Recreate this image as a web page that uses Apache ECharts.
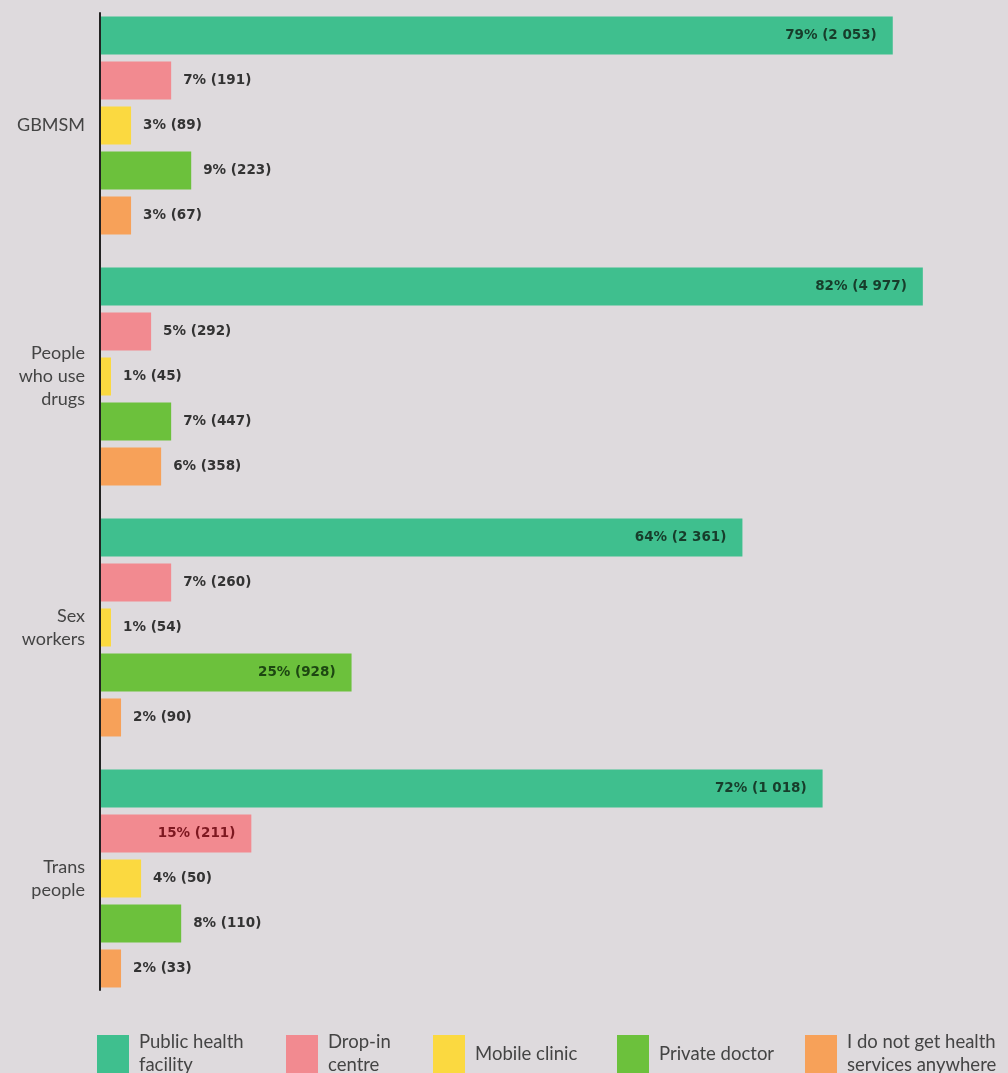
<!DOCTYPE html>
<html>
<head>
<meta charset="utf-8">
<script src="https://cdn.jsdelivr.net/npm/echarts@6/dist/echarts.min.js"></script>
<style>
  html, body { margin: 0; padding: 0; background: #dedadd; }
  #chart { width: 1008px; height: 1073px; }
</style>
</head>
<body>
<div id="chart"></div>
<script>
const categories = ['GBMSM', 'People\nwho use\ndrugs', 'Sex\nworkers', 'Trans\npeople'];
const seriesNames = ['Public health facility', 'Drop-in centre', 'Mobile clinic', 'Private doctor', 'I do not get health services anywhere'];
const legendLabels = ['Public health\nfacility', 'Drop-in\ncentre', 'Mobile clinic', 'Private doctor', 'I do not get health\nservices anywhere'];
const colors = ['#3fbf8e', '#f28a90', '#fbd940', '#6cc13c', '#f7a159'];
const insideLabelColors = ['#173d2b', '#7d1820', '#5a4a00', '#1d4712', '#5a3000'];

// percentages per series, in category order (GBMSM, PWUD, Sex workers, Trans people)
const publicPct  = [79, 82, 64, 72];
const dropinPct  = [7, 5, 7, 15];
const mobilePct  = [3, 1, 1, 4];
const privatePct = [9, 7, 25, 8];
const nonePct    = [3, 6, 2, 2];

// respondent counts
const publicN  = [2053, 4977, 2361, 1018];
const dropinN  = [191, 292, 260, 211];
const mobileN  = [89, 45, 54, 50];
const privateN = [223, 447, 928, 110];
const noneN    = [67, 358, 90, 33];

const pctSets = [publicPct, dropinPct, mobilePct, privatePct, nonePct];
const countSets = [publicN, dropinN, mobileN, privateN, noneN];

function fmtCount(n) {
  return String(n).replace(/\B(?=(\d{3})+(?!\d))/g, ' ');
}

const textFont = 'Lato, "Open Sans", sans-serif';
const valueFont = '"DejaVu Sans", sans-serif';

const series = seriesNames.map((name, si) => ({
  name: name,
  type: 'bar',
  barWidth: 38,
  barGap: '18.4%',
  xAxisIndex: 0,
  yAxisIndex: 0,
  itemStyle: { color: colors[si] },
  data: pctSets[si].map((v, ci) => {
    const inside = v >= 15;
    return {
      value: v,
      label: {
        show: true,
        position: inside ? 'insideRight' : 'right',
        distance: inside ? 16 : 12,
        formatter: v + '% (' + fmtCount(countSets[si][ci]) + ')',
        color: inside ? insideLabelColors[si] : '#333',
        fontFamily: valueFont,
        fontSize: 13.5,
        fontWeight: 'bold'
      }
    };
  })
}));

const legendLefts = [97, 286, 433, 617, 805];
const legends = seriesNames.map((name, i) => ({
  data: [name],
  left: legendLefts[i],
  top: legendLabels[i].indexOf('\n') >= 0 ? 1031 : 1035,
  padding: 0,
  itemWidth: 32,
  itemHeight: 38,
  icon: 'rect',
  selectedMode: false,
  formatter: () => legendLabels[i],
  textStyle: {
    fontFamily: textFont,
    fontSize: 18.5,
    color: '#444',
    lineHeight: 23,
    padding: [0, 0, 0, 5]
  }
}));

const chart = echarts.init(document.getElementById('chart'));
chart.setOption({
  backgroundColor: '#dedadd',
  animation: false,
  grid: [
    { left: 101, top: 0, height: 1004, width: 902 },
    { left: 100, top: 13, height: 977, width: 902 }
  ],
  xAxis: [
    { type: 'value', min: 0, max: 90, show: false, gridIndex: 0 },
    { type: 'value', min: 0, max: 90, show: false, gridIndex: 1 }
  ],
  yAxis: [
    {
      type: 'category',
      inverse: true,
      gridIndex: 0,
      data: categories,
      axisLine: { show: false },
      axisTick: { show: false },
      axisLabel: {
        margin: 16,
        color: '#444',
        fontFamily: textFont,
        fontSize: 18,
        lineHeight: 23,
        align: 'right'
      }
    },
    {
      type: 'value',
      gridIndex: 1,
      min: 0, max: 1,
      axisLine: { show: true, lineStyle: { color: '#222', width: 2 } },
      axisTick: { show: false },
      axisLabel: { show: false },
      splitLine: { show: false }
    }
  ],
  legend: legends,
  series: series
});
</script>
</body>
</html>
